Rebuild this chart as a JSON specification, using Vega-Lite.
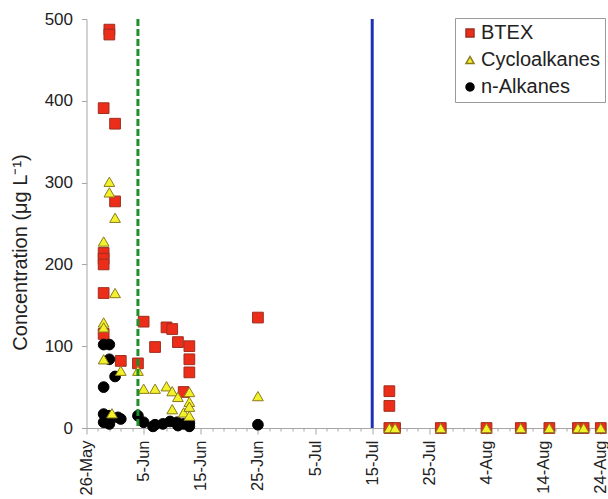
{
  "$schema": "https://vega.github.io/schema/vega-lite/v6.json",
  "width": 520,
  "height": 409,
  "autosize": "none",
  "padding": {"left": 86.5, "top": 19, "right": 1.5, "bottom": 71},
  "background": "white",
  "config": {
    "view": {"stroke": null},
    "font": "Liberation Sans",
    "axis": {
      "domainColor": "#a6a6a6",
      "tickColor": "#a6a6a6",
      "labelColor": "#222222",
      "titleColor": "#222222",
      "labelFont": "Liberation Sans",
      "titleFont": "Liberation Sans",
      "labelFontSize": 17,
      "grid": false
    }
  },
  "resolve": {"scale": {"x": "shared"}, "axis": {"x": "independent"}},
  "layer": [
    {
      "data": {
        "values": [
          {"date": "2010-05-29T00:00", "series": "BTEX", "value": 391},
          {"date": "2010-05-29T00:00", "series": "BTEX", "value": 214},
          {"date": "2010-05-29T00:00", "series": "BTEX", "value": 207},
          {"date": "2010-05-29T00:00", "series": "BTEX", "value": 200},
          {"date": "2010-05-29T00:00", "series": "BTEX", "value": 165},
          {"date": "2010-05-29T00:00", "series": "BTEX", "value": 115},
          {"date": "2010-05-30T00:00", "series": "BTEX", "value": 487},
          {"date": "2010-05-30T00:00", "series": "BTEX", "value": 481},
          {"date": "2010-05-31T00:00", "series": "BTEX", "value": 372},
          {"date": "2010-05-31T00:00", "series": "BTEX", "value": 277},
          {"date": "2010-06-01T00:00", "series": "BTEX", "value": 82},
          {"date": "2010-06-04T00:00", "series": "BTEX", "value": 79},
          {"date": "2010-06-05T00:00", "series": "BTEX", "value": 130},
          {"date": "2010-06-07T00:00", "series": "BTEX", "value": 99},
          {"date": "2010-06-09T00:00", "series": "BTEX", "value": 123},
          {"date": "2010-06-10T00:00", "series": "BTEX", "value": 121},
          {"date": "2010-06-11T00:00", "series": "BTEX", "value": 105},
          {"date": "2010-06-12T00:00", "series": "BTEX", "value": 44},
          {"date": "2010-06-13T00:00", "series": "BTEX", "value": 100},
          {"date": "2010-06-13T00:00", "series": "BTEX", "value": 84},
          {"date": "2010-06-13T00:00", "series": "BTEX", "value": 68},
          {"date": "2010-06-25T00:00", "series": "BTEX", "value": 135},
          {"date": "2010-07-18T00:00", "series": "BTEX", "value": 45},
          {"date": "2010-07-18T00:00", "series": "BTEX", "value": 27},
          {"date": "2010-07-18T00:00", "series": "BTEX", "value": 0},
          {"date": "2010-07-19T00:00", "series": "BTEX", "value": 0},
          {"date": "2010-07-27T00:00", "series": "BTEX", "value": 0},
          {"date": "2010-08-04T00:00", "series": "BTEX", "value": 0},
          {"date": "2010-08-10T00:00", "series": "BTEX", "value": 0},
          {"date": "2010-08-15T00:00", "series": "BTEX", "value": 0},
          {"date": "2010-08-20T00:00", "series": "BTEX", "value": 0},
          {"date": "2010-08-21T00:00", "series": "BTEX", "value": 0},
          {"date": "2010-08-24T00:00", "series": "BTEX", "value": 0},

          {"date": "2010-05-29T00:00", "series": "n-Alkanes", "value": 102},
          {"date": "2010-05-29T00:00", "series": "n-Alkanes", "value": 50},
          {"date": "2010-05-29T00:00", "series": "n-Alkanes", "value": 17},
          {"date": "2010-05-29T00:00", "series": "n-Alkanes", "value": 7},
          {"date": "2010-05-30T00:00", "series": "n-Alkanes", "value": 102},
          {"date": "2010-05-30T00:00", "series": "n-Alkanes", "value": 84},
          {"date": "2010-05-30T00:00", "series": "n-Alkanes", "value": 15},
          {"date": "2010-05-30T00:00", "series": "n-Alkanes", "value": 5},
          {"date": "2010-05-31T00:00", "series": "n-Alkanes", "value": 63},
          {"date": "2010-05-31T12:00", "series": "n-Alkanes", "value": 13},
          {"date": "2010-06-01T00:00", "series": "n-Alkanes", "value": 11},
          {"date": "2010-06-04T00:00", "series": "n-Alkanes", "value": 15},
          {"date": "2010-06-05T00:00", "series": "n-Alkanes", "value": 7},
          {"date": "2010-06-06T15:00", "series": "n-Alkanes", "value": 2},
          {"date": "2010-06-07T00:00", "series": "n-Alkanes", "value": 4},
          {"date": "2010-06-08T09:00", "series": "n-Alkanes", "value": 5},
          {"date": "2010-06-09T15:00", "series": "n-Alkanes", "value": 8},
          {"date": "2010-06-10T20:00", "series": "n-Alkanes", "value": 7},
          {"date": "2010-06-11T00:00", "series": "n-Alkanes", "value": 3},
          {"date": "2010-06-12T00:00", "series": "n-Alkanes", "value": 5},
          {"date": "2010-06-13T00:00", "series": "n-Alkanes", "value": 2},
          {"date": "2010-06-13T00:00", "series": "n-Alkanes", "value": 6},
          {"date": "2010-06-25T00:00", "series": "n-Alkanes", "value": 4},

          {"date": "2010-05-29T00:00", "series": "Cycloalkanes", "value": 228},
          {"date": "2010-05-29T00:00", "series": "Cycloalkanes", "value": 129},
          {"date": "2010-05-29T00:00", "series": "Cycloalkanes", "value": 123},
          {"date": "2010-05-29T00:00", "series": "Cycloalkanes", "value": 84},
          {"date": "2010-05-30T00:00", "series": "Cycloalkanes", "value": 301},
          {"date": "2010-05-30T00:00", "series": "Cycloalkanes", "value": 288},
          {"date": "2010-05-30T11:00", "series": "Cycloalkanes", "value": 18},
          {"date": "2010-05-31T00:00", "series": "Cycloalkanes", "value": 257},
          {"date": "2010-05-31T00:00", "series": "Cycloalkanes", "value": 165},
          {"date": "2010-06-01T00:00", "series": "Cycloalkanes", "value": 70},
          {"date": "2010-06-04T00:00", "series": "Cycloalkanes", "value": 70},
          {"date": "2010-06-05T00:00", "series": "Cycloalkanes", "value": 48},
          {"date": "2010-06-07T00:00", "series": "Cycloalkanes", "value": 48},
          {"date": "2010-06-09T00:00", "series": "Cycloalkanes", "value": 51},
          {"date": "2010-06-10T00:00", "series": "Cycloalkanes", "value": 45},
          {"date": "2010-06-10T00:00", "series": "Cycloalkanes", "value": 23},
          {"date": "2010-06-11T00:00", "series": "Cycloalkanes", "value": 38},
          {"date": "2010-06-12T00:00", "series": "Cycloalkanes", "value": 19},
          {"date": "2010-06-13T00:00", "series": "Cycloalkanes", "value": 44},
          {"date": "2010-06-13T00:00", "series": "Cycloalkanes", "value": 32},
          {"date": "2010-06-13T00:00", "series": "Cycloalkanes", "value": 26},
          {"date": "2010-06-13T00:00", "series": "Cycloalkanes", "value": 15},
          {"date": "2010-06-25T00:00", "series": "Cycloalkanes", "value": 39},
          {"date": "2010-07-18T00:00", "series": "Cycloalkanes", "value": 0},
          {"date": "2010-07-19T00:00", "series": "Cycloalkanes", "value": 0},
          {"date": "2010-07-27T00:00", "series": "Cycloalkanes", "value": 0},
          {"date": "2010-08-04T00:00", "series": "Cycloalkanes", "value": 0},
          {"date": "2010-08-10T00:00", "series": "Cycloalkanes", "value": 0},
          {"date": "2010-08-15T00:00", "series": "Cycloalkanes", "value": 0},
          {"date": "2010-08-20T00:00", "series": "Cycloalkanes", "value": 0},
          {"date": "2010-08-21T00:00", "series": "Cycloalkanes", "value": 0},
          {"date": "2010-08-24T00:00", "series": "Cycloalkanes", "value": 0}
        ]
      },
      "mark": {"type": "point", "filled": true, "opacity": 1, "strokeWidth": 1, "size": 115},
      "encoding": {
        "x": {
          "field": "date",
          "type": "temporal",
          "scale": {
            "domain": [
              {"year": 2010, "month": 5, "date": 26},
              {"year": 2010, "month": 8, "date": 25}
            ]
          },
          "axis": {
            "orient": "bottom",
            "title": null,
            "values": [
              {"year": 2010, "month": 5, "date": 26},
              {"year": 2010, "month": 6, "date": 5},
              {"year": 2010, "month": 6, "date": 15},
              {"year": 2010, "month": 6, "date": 25},
              {"year": 2010, "month": 7, "date": 5},
              {"year": 2010, "month": 7, "date": 15},
              {"year": 2010, "month": 7, "date": 25},
              {"year": 2010, "month": 8, "date": 4},
              {"year": 2010, "month": 8, "date": 14},
              {"year": 2010, "month": 8, "date": 24}
            ],
            "format": "%-d-%b",
            "labelAngle": -90,
            "labelFontSize": 16.5,
            "labelPadding": 6,
            "labelOverlap": false,
            "labelFlush": false,
            "labelBound": false,
            "tickSize": 6
          }
        },
        "y": {
          "field": "value",
          "type": "quantitative",
          "scale": {"domain": [0, 500], "nice": false},
          "axis": {
            "values": [0, 100, 200, 300, 400, 500],
            "tickSize": 5,
            "labelPadding": 9,
            "title": "Concentration (μg L⁻¹)",
            "titleFontSize": 20,
            "titleFontWeight": "normal",
            "titleAngle": -90,
            "titleBaseline": "alphabetic",
            "titleAlign": "center",
            "titleX": -60,
            "titleY": 233
          }
        },
        "shape": {
          "field": "series",
          "type": "nominal",
          "scale": {
            "domain": ["BTEX", "Cycloalkanes", "n-Alkanes"],
            "range": ["square", "triangle-up", "circle"]
          },
          "legend": {
            "title": null,
            "orient": "none",
            "legendX": 368.5,
            "legendY": -1,
            "strokeColor": "#9a9a9a",
            "fillColor": "white",
            "padding": 5,
            "labelFont": "Liberation Sans",
            "labelFontSize": 20,
            "labelColor": "#222222",
            "labelOffset": 1,
            "symbolSize": 64,
            "rowPadding": 7
          }
        },
        "fill": {
          "field": "series",
          "type": "nominal",
          "scale": {
            "domain": ["BTEX", "Cycloalkanes", "n-Alkanes"],
            "range": ["#ec2d1a", "#f2f22a", "#000000"]
          },
          "legend": null
        },
        "stroke": {
          "field": "series",
          "type": "nominal",
          "scale": {
            "domain": ["BTEX", "Cycloalkanes", "n-Alkanes"],
            "range": ["#9e2f1f", "#8c7a1e", "#000000"]
          },
          "legend": null
        }
      }
    },
    {
      "data": {"values": [{"date": "2010-06-04T00:00", "event": "riser cut"}]},
      "mark": {"type": "rule", "color": "#1f8f2a", "strokeWidth": 3, "strokeDash": [7, 3]},
      "encoding": {
        "x": {
          "field": "date",
          "type": "temporal",
          "axis": {
            "orient": "bottom",
            "title": null,
            "labels": false,
            "domain": false,
            "tickSize": 3,
            "values": [
              {"year": 2010, "month": 5, "date": 28}, {"year": 2010, "month": 5, "date": 30},
              {"year": 2010, "month": 6, "date": 1}, {"year": 2010, "month": 6, "date": 3},
              {"year": 2010, "month": 6, "date": 7}, {"year": 2010, "month": 6, "date": 9},
              {"year": 2010, "month": 6, "date": 11}, {"year": 2010, "month": 6, "date": 13},
              {"year": 2010, "month": 6, "date": 17}, {"year": 2010, "month": 6, "date": 19},
              {"year": 2010, "month": 6, "date": 21}, {"year": 2010, "month": 6, "date": 23},
              {"year": 2010, "month": 6, "date": 27}, {"year": 2010, "month": 6, "date": 29},
              {"year": 2010, "month": 7, "date": 1}, {"year": 2010, "month": 7, "date": 3},
              {"year": 2010, "month": 7, "date": 7}, {"year": 2010, "month": 7, "date": 9},
              {"year": 2010, "month": 7, "date": 11}, {"year": 2010, "month": 7, "date": 13},
              {"year": 2010, "month": 7, "date": 17}, {"year": 2010, "month": 7, "date": 19},
              {"year": 2010, "month": 7, "date": 21}, {"year": 2010, "month": 7, "date": 23},
              {"year": 2010, "month": 7, "date": 27}, {"year": 2010, "month": 7, "date": 29},
              {"year": 2010, "month": 7, "date": 31}, {"year": 2010, "month": 8, "date": 2},
              {"year": 2010, "month": 8, "date": 6}, {"year": 2010, "month": 8, "date": 8},
              {"year": 2010, "month": 8, "date": 10}, {"year": 2010, "month": 8, "date": 12},
              {"year": 2010, "month": 8, "date": 16}, {"year": 2010, "month": 8, "date": 18},
              {"year": 2010, "month": 8, "date": 20}, {"year": 2010, "month": 8, "date": 22}
            ]
          }
        }
      }
    },
    {
      "data": {"values": [{"date": "2010-07-15T00:00", "event": "well capped"}]},
      "mark": {"type": "rule", "color": "#1e2fb8", "strokeWidth": 3},
      "encoding": {"x": {"field": "date", "type": "temporal", "axis": null}}
    }
  ]
}
